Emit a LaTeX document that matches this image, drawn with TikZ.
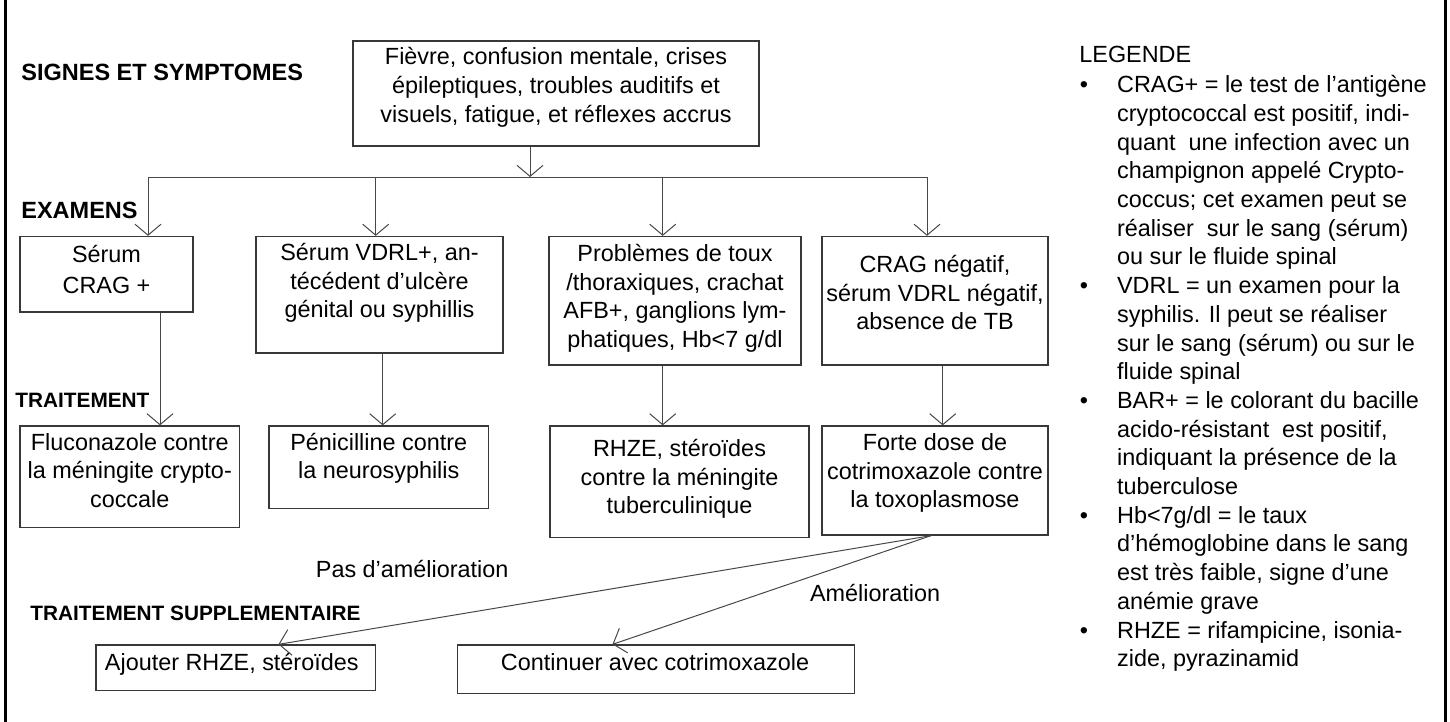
\documentclass[tikz,border=0pt]{standalone}
\usepackage{fontspec}
\setmainfont{Liberation Sans}
\usetikzlibrary{arrows.meta,fit}
\begin{document}
\begin{tikzpicture}[x=0.5pt,y=-0.5pt,
  box/.style={draw=black!78, line width=0.65pt, inner sep=0pt},
  txt/.style={font=\fontsize{11.7}{14.25}\selectfont, align=center, inner sep=0pt, anchor=base},
  hdr/.style={font=\fontsize{11.75}{14}\selectfont\bfseries, inner sep=0pt, anchor=base west},
  hdrs/.style={font=\fontsize{10.4}{12}\selectfont\bfseries, inner sep=0pt, anchor=base west},
  lbl/.style={font=\fontsize{11.7}{14}\selectfont, inner sep=0pt, anchor=base west},
  leg/.style={font=\fontsize{11.7}{14.35}\selectfont, align=left, inner sep=0pt, anchor=base west},
  arr/.style={draw=black!72, line width=0.5pt, -{Straight Barb[length=5.5pt,width=13pt]}},
  ln/.style={draw=black!72, line width=0.5pt},
  frame/.style={draw=black, line width=1.5pt}
]
\useasboundingbox (0,0) rectangle (1450,722);
\draw[frame] (5.5,0) -- (5.5,722);
\draw[frame] (1445.5,0) -- (1445.5,722);

% boxes
\node[box, fit={(353,41)(759,146)}] (top) {};
\node[box, fit={(20,236.5)(193,312)}] (e1) {};
\node[box, fit={(256,236.5)(503,353)}] (e2) {};
\node[box, fit={(549,236.5)(801,365)}] (e3) {};
\node[box, fit={(822,236.5)(1048,365)}] (e4) {};
\node[box, fit={(20,426)(239.5,527.5)}] (t1) {};
\node[box, fit={(269,426)(488.5,508.5)}] (t2) {};
\node[box, fit={(550,426)(809,537.5)}] (t3) {};
\node[box, fit={(822,426)(1048,535)}] (t4) {};
\node[box, fit={(96,645)(375.5,690.5)}] (a1) {};
\node[box, fit={(457.5,645)(854.5,693.5)}] (a2) {};

% box texts (anchor = baseline of the last line)
\node[txt] (toptxt) at (556,122) {Fièvre, confusion mentale, crises\\épileptiques, troubles auditifs et\\visuels, fatigue, et réflexes accrus};
\node[txt, font=\fontsize{11.7}{15.5}\selectfont] (e1txt) at (106.5,293.3) {Sérum\\CRAG +};
\node[txt] (e2txt) at (379.5,317.5) {Sérum VDRL+, an-\\técédent d’ulcère\\génital ou syphillis};
\node[txt] (e3txt) at (675,347.2) {Problèmes de toux\\/thoraxiques, crachat\\AFB+, ganglions lym-\\phatiques, Hb<7 g/dl};
\node[txt] (e4txt) at (935,329.7) {CRAG négatif,\\sérum VDRL négatif,\\absence de TB};
\node[txt] (t1txt) at (129.75,507.3) {Fluconazole contre\\la méningite crypto-\\coccale};
\node[txt] (t2txt) at (378.75,478.7) {Pénicilline contre\\la neurosyphilis};
\node[txt] (t3txt) at (679.5,513.7) {RHZE, stéroïdes\\contre la méningite\\tuberculinique};
\node[txt] (t4txt) at (935,507.9) {Forte dose de\\cotrimoxazole contre\\la toxoplasmose};
\node[txt] (a1txt) at (231.75,670) {Ajouter RHZE, stéroïdes};
\node[txt] (a2txt) at (655,670) {Continuer avec cotrimoxazole};

% section headers
\node[hdr] (hsig) at (21,81) {SIGNES ET SYMPTOMES};
\node[hdr] (hexa) at (21,218) {EXAMENS};
\node[hdrs] (htra) at (15,407.7) {TRAITEMENT};
\node[hdrs] (hsup) at (30,620) {TRAITEMENT SUPPLEMENTAIRE};

% edge labels
\node[lbl] (lpas) at (315.5,577) {Pas d’amélioration};
\node[lbl] (lame) at (809.6,601.7) {Amélioration};

% connectors
\coordinate (hc) at (530,177);
\coordinate (h1) at (148,177);
\coordinate (h2) at (375.7,177);
\coordinate (h3) at (662.7,177);
\coordinate (h4) at (927,177);
\draw[arr] (hc |- top.south) -- (hc);
\draw[ln] (h1) -- (h4);
\draw[arr] (h1) -- (h1 |- e1.north);
\draw[arr] (h2) -- (h2 |- e2.north);
\draw[arr] (h3) -- (h3 |- e3.north);
\draw[arr] (h4) -- (h4 |- e4.north);

\coordinate (v1) at (160,0);
\coordinate (v2) at (382.7,0);
\coordinate (v3) at (662.7,0);
\coordinate (v4) at (942.7,0);
\draw[arr] (v1 |- e1.south) -- (v1 |- t1.north);
\draw[arr] (v2 |- e2.south) -- (v2 |- t2.north);
\draw[arr] (v3 |- e3.south) -- (v3 |- t3.north);
\draw[arr] (v4 |- e4.south) -- (v4 |- t4.north);

\coordinate (d0) at (931,0);
\coordinate (d1) at (278.4,0);
\coordinate (d2) at (612.5,0);
\draw[arr] (d0 |- t4.south) -- (d1 |- a1.north);
\draw[arr] (d0 |- t4.south) -- (d2 |- a2.north);

% legend
\node[lbl] (legt) at (1079,62.7) {LEGENDE};
\foreach \n/\y in {1/92.7,2/293.6,3/408.4,4/523.2,5/638}{
  \node[lbl] (bul\n) at (1079.5,\y) {•};
}
\node[leg] (leg1) at (1116.7,264.9) {CRAG+ = le test de l’antigène\\cryptococcal est positif, indi-\\quant\ \ une infection avec un\\champignon appelé Crypto-\\coccus; cet examen peut se\\réaliser\ \ sur le sang (sérum)\\ou sur le fluide spinal};
\node[leg] (leg2) at (1116.7,379.7) {VDRL = un examen pour la\\syphilis. Il peut se réaliser\\sur le sang (sérum) ou sur le\\fluide spinal};
\node[leg] (leg3) at (1116.7,494.5) {BAR+ = le colorant du bacille\\acido-résistant\ \ est positif,\\indiquant la présence de la\\tuberculose};
\node[leg] (leg4) at (1116.7,609.3) {Hb<7g/dl = le taux\\d’hémoglobine dans le sang\\est très faible, signe d’une\\anémie grave};
\node[leg] (leg5) at (1116.7,666.7) {RHZE = rifampicine, isonia-\\zide, pyrazinamid};
\end{tikzpicture}
\end{document}
